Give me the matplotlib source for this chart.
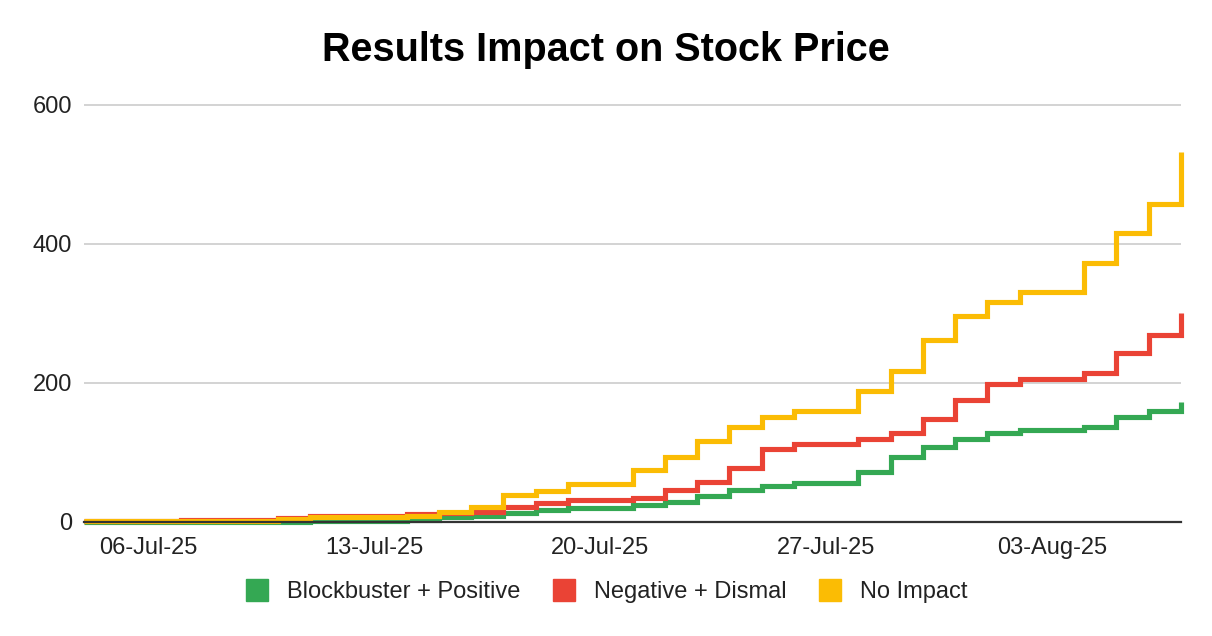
import matplotlib
matplotlib.use("Agg")
import matplotlib.pyplot as plt
import matplotlib.dates as mdates
from matplotlib.lines import Line2D
import pandas as pd

plt.rcParams['font.family'] = ['Liberation Sans', 'DejaVu Sans']

dates = pd.date_range("2025-07-04", "2025-08-07", freq="D")

blockbuster_positive = [0, 0, 0, 0, 0, 0, 0, 1, 1, 1, 3, 6.5, 9, 12.5, 17.5, 20.5, 20.5,
                        24.5, 29, 37.5, 46, 52, 55.5, 55.5, 72, 94, 108, 119, 128.5, 132,
                        132, 137, 150.5, 159, 173]
negative_dismal = [1, 1, 1, 2.5, 2.5, 2.5, 5.5, 9, 9, 9, 11, 13, 14.5, 22, 27, 31.5, 31.5,
                   35, 46, 57, 77, 105, 112, 112, 120, 128, 148, 176, 198, 206,
                   206, 215, 243, 269, 300]
no_impact = [1, 1, 1, 1, 1, 1, 4, 7.5, 7.5, 7.5, 9, 15, 21, 38.5, 44, 54, 54,
             75, 94, 117, 136, 151, 160, 160, 188, 217, 262, 297, 316, 331,
             331, 373, 416, 458, 533]

series_names = ["Blockbuster + Positive", "Negative + Dismal", "No Impact"]
series_colors = ["#34A853", "#EA4335", "#FBBC04"]
tick_dates = pd.to_datetime(["2025-07-06", "2025-07-13", "2025-07-20", "2025-07-27", "2025-08-03"])
y_ticks = [0, 200, 400, 600]

fig = plt.figure(figsize=(12.12, 6.36), dpi=100)
ax = fig.add_axes([84 / 1212, 1 - 522 / 636, (1181 - 84) / 1212, (522 - 101.5) / 636])

for vals, name, col in zip([blockbuster_positive, negative_dismal, no_impact], series_names, series_colors):
    ax.plot(dates, vals, drawstyle="steps-post", color=col, lw=3.7, label=name,
            solid_joinstyle="miter", solid_capstyle="butt", clip_on=False, zorder=3)

ax.set_xlim(dates[0], dates[-1])
ax.set_ylim(0, 605)
ax.set_yticks(y_ticks)
ax.set_xticks(tick_dates)
ax.xaxis.set_major_formatter(mdates.DateFormatter("%d-%b-%y"))
ax.tick_params(axis="both", length=0, labelsize=17, colors="#222222")
ax.tick_params(axis="y", pad=8.5)
ax.tick_params(axis="x", pad=11)
ax.grid(axis="y", color="#CCCCCC", lw=1.2)
ax.grid(axis="x", visible=False)
for s in ["left", "right", "top"]:
    ax.spines[s].set_visible(False)
ax.spines["bottom"].set_color("#333333")
ax.spines["bottom"].set_linewidth(1.6)
ax.spines["bottom"].set_zorder(4)
ax.set_axisbelow(True)

fig.suptitle("Results Impact on Stock Price", x=0.5, y=1 - 50 / 636, va="center",
             fontsize=28.5, fontweight="bold")

handles = [Line2D([], [], marker="s", linestyle="none", markersize=16.5, markerfacecolor=c,
                  markeredgecolor=c) for c in series_colors]
fig.legend(handles, series_names, loc="center", bbox_to_anchor=(606 / 1212, 1 - 592 / 636),
           ncol=3, frameon=False, fontsize=17, handlelength=1.05, handletextpad=0.75,
           columnspacing=1.3, labelcolor="#222222", borderpad=0, borderaxespad=0)

fig.savefig("out.png", dpi=100)
